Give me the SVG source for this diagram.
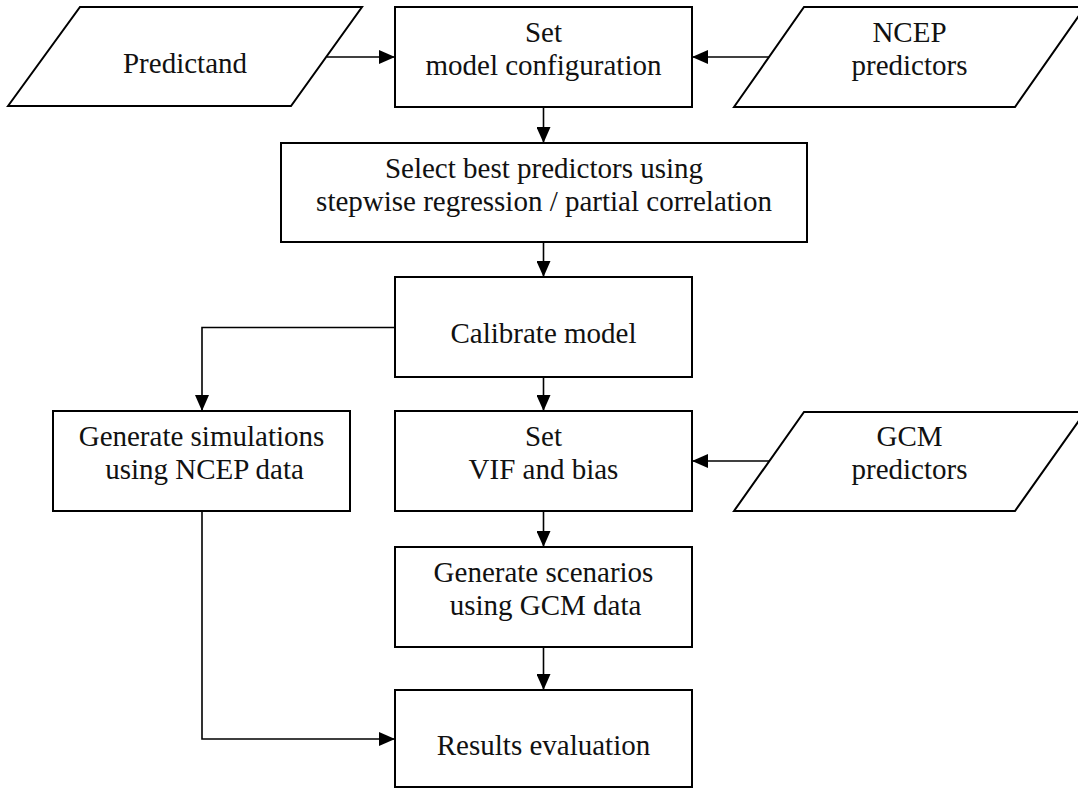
<svg xmlns="http://www.w3.org/2000/svg" width="1078" height="789" viewBox="0 0 1078 789">
<style>
.box{fill:#fff;stroke:#000;stroke-width:2}
.io{fill:#fff;stroke:#000;stroke-width:2;stroke-linejoin:miter}
.lbl{font-family:"Liberation Serif","Times New Roman",serif;font-size:29px;fill:#111;text-anchor:middle}
.cn{fill:none;stroke:#000;stroke-width:1.6}
</style>
<defs>
<marker id="ah" markerUnits="userSpaceOnUse" markerWidth="16" markerHeight="14" refX="16" refY="7" orient="auto">
<path d="M0,0 L16,7 L0,14 z" fill="#000"/>
</marker>
</defs>
<rect width="1078" height="789" fill="#fff"/>
<g id="connectors">
<path class="cn" d="M327,57 L395,57" marker-end="url(#ah)"/>
<path class="cn" d="M769,57 L692,57" marker-end="url(#ah)"/>
<path class="cn" d="M543.5,107 L543.5,143" marker-end="url(#ah)"/>
<path class="cn" d="M543.5,242 L543.5,277" marker-end="url(#ah)"/>
<path class="cn" d="M395,327.5 L202,327.5 L202,411" marker-end="url(#ah)"/>
<path class="cn" d="M543.5,377 L543.5,411" marker-end="url(#ah)"/>
<path class="cn" d="M769,461 L692,461" marker-end="url(#ah)"/>
<path class="cn" d="M543.5,511 L543.5,547" marker-end="url(#ah)"/>
<path class="cn" d="M543.5,647 L543.5,690" marker-end="url(#ah)"/>
<path class="cn" d="M202,511 L202,739 L395,739" marker-end="url(#ah)"/>
</g>
<g id="predictand">
<polygon class="io" points="8,106 80,7 362,7 291,106"/>
<text class="lbl" x="185" y="73">Predictand</text>
</g>
<g id="set-model">
<rect class="box" x="395" y="7" width="297" height="100"/>
<text class="lbl" x="543.5" y="42">Set</text>
<text class="lbl" x="543.5" y="75">model configuration</text>
</g>
<g id="ncep-predictors">
<polygon class="io" points="734,107 804,7 1085,7 1015,107"/>
<text class="lbl" x="909.5" y="42">NCEP</text>
<text class="lbl" x="909.5" y="75">predictors</text>
</g>
<g id="select">
<rect class="box" x="281" y="143" width="526" height="99"/>
<text class="lbl" x="544" y="178">Select best predictors using</text>
<text class="lbl" x="544" y="211">stepwise regression / partial correlation</text>
</g>
<g id="calibrate">
<rect class="box" x="395" y="277" width="297" height="100"/>
<text class="lbl" x="543.5" y="343">Calibrate model</text>
</g>
<g id="gen-sim">
<rect class="box" x="53" y="411" width="297" height="100"/>
<text class="lbl" x="201.5" y="446">Generate simulations</text>
<text class="lbl" x="204.5" y="479">using NCEP data</text>
</g>
<g id="set-vif">
<rect class="box" x="395" y="411" width="297" height="100"/>
<text class="lbl" x="543.5" y="446">Set</text>
<text class="lbl" x="543.5" y="479">VIF and bias</text>
</g>
<g id="gcm-predictors">
<polygon class="io" points="734,511 804,412 1085,412 1015,511"/>
<text class="lbl" x="909.5" y="446">GCM</text>
<text class="lbl" x="909.5" y="479">predictors</text>
</g>
<g id="gen-scen">
<rect class="box" x="395" y="547" width="297" height="100"/>
<text class="lbl" x="543.5" y="582">Generate scenarios</text>
<text class="lbl" x="545.5" y="615">using GCM data</text>
</g>
<g id="results">
<rect class="box" x="395" y="690" width="297" height="97"/>
<text class="lbl" x="543.5" y="755">Results evaluation</text>
</g>
</svg>
